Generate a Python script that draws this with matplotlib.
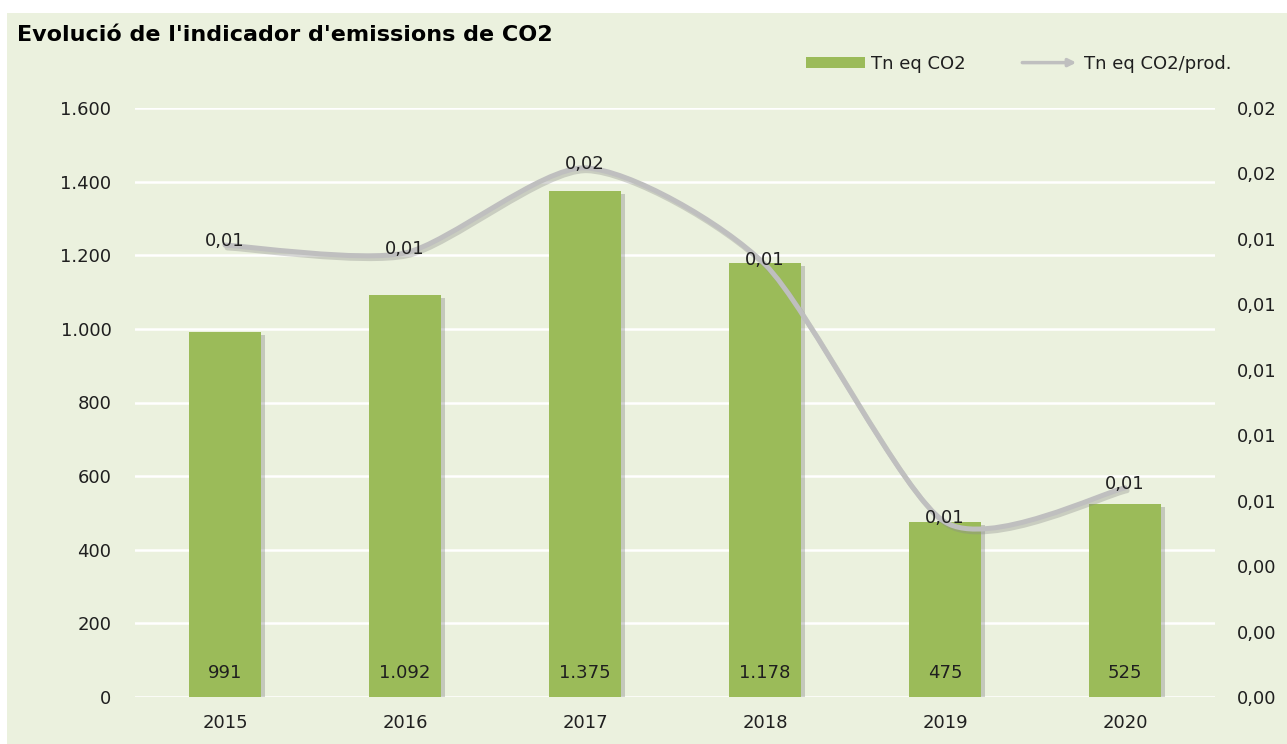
import matplotlib
matplotlib.use("Agg")
import matplotlib.pyplot as plt
import matplotlib.patheffects as pe
from matplotlib.patches import Patch, Rectangle, FancyArrowPatch, PathPatch
from matplotlib.path import Path
from matplotlib.legend_handler import HandlerBase
import numpy as np

# data
years = ["2015", "2016", "2017", "2018", "2019", "2020"]
tn_co2 = [991, 1092, 1375, 1178, 475, 525]
tn_co2_prod = [0.01381, 0.01357, 0.01617, 0.01322, 0.00535, 0.00639]

BG = "#EBF1DE"
BAR = "#9BBB59"
LINE = "#BFBFBF"
TXT = "#1F1F1F"
FONT = 13


def thousands(v):
    return "{:,}".format(v).replace(",", ".")


def comma2(v, pos=None):
    return "{:.2f}".format(v).replace(".", ",")


def smooth_path(xs, ys, k=0.12):
    """Bezier path through the points, roughly like Excel's smoothed line"""
    pts = np.column_stack([xs, ys]).astype(float)
    n = len(pts)
    verts = [pts[0]]
    codes = [Path.MOVETO]
    for i in range(n - 1):
        p0 = pts[max(i - 1, 0)]
        p1 = pts[i]
        p2 = pts[i + 1]
        p3 = pts[min(i + 2, n - 1)]
        verts += [p1 + (p2 - p0) * k, p2 - (p3 - p1) * k, p2]
        codes += [Path.CURVE4] * 3
    return Path(verts, codes)


class ArrowHandler(HandlerBase):
    def create_artists(self, legend, orig_handle, xdescent, ydescent,
                       width, height, fontsize, trans):
        y = height / 2 - ydescent
        arr = FancyArrowPatch((-xdescent, y), (width - xdescent, y),
                              arrowstyle="-|>", mutation_scale=11,
                              color=LINE, lw=2.5, transform=trans)
        return [arr]


fig = plt.figure(figsize=(12.87, 7.44), dpi=100, facecolor="white")
fig.patches.append(Rectangle((7 / 1287, 0), 1 - 7 / 1287, 1 - 13 / 744,
                             transform=fig.transFigure, facecolor=BG,
                             edgecolor="none", zorder=-10))

ax = fig.add_axes([135 / 1287, 1 - 697 / 744, (1215 - 135) / 1287, (697 - 108) / 744])
ax.set_facecolor("none")
x = np.arange(len(years))

bars = ax.bar(x, tn_co2, width=0.4, color=BAR, zorder=3,
              path_effects=[pe.withSimplePatchShadow(offset=(3, -2), shadow_rgbFace="#6b6b6b", alpha=0.3)])
for xi, v in zip(x, tn_co2):
    ax.annotate(thousands(v), (xi, 0), xytext=(0, 17), textcoords="offset points",
                ha="center", va="center", fontsize=FONT, color=TXT, zorder=5)

ax.set_xlim(-0.5, len(years) - 0.5)
ax.set_ylim(0, 1600)
ax.set_yticks(np.arange(0, 1601, 200))
ax.set_yticklabels([thousands(v) for v in range(0, 1601, 200)])
ax.set_xticks(x)
ax.set_xticklabels(years)
ax.grid(axis="y", color="white", linewidth=1.8, zorder=1)
ax.set_axisbelow(True)
for s in ax.spines.values():
    s.set_visible(False)
ax.tick_params(axis="both", length=0, labelsize=FONT, colors=TXT)
ax.tick_params(axis="y", pad=17)
ax.tick_params(axis="x", pad=12)

ax2 = ax.twinx()
ax2.set_ylim(0, 0.018)
ax2.set_yticks(np.arange(0, 0.0181, 0.002))
ax2.yaxis.set_major_formatter(plt.FuncFormatter(comma2))
for s in ax2.spines.values():
    s.set_visible(False)
ax2.tick_params(axis="y", length=0, labelsize=FONT, colors=TXT, pad=16)

curve = PathPatch(smooth_path(x, tn_co2_prod), facecolor="none", edgecolor=LINE,
                  lw=3.6, capstyle="round", transform=ax2.transData, zorder=4,
                  path_effects=[pe.SimpleLineShadow(offset=(1.5, -2), shadow_color="#8a8a8a", alpha=0.35),
                                pe.Normal()])
ax2.add_patch(curve)
for xi, v in zip(x, tn_co2_prod):
    ax2.annotate(comma2(v), (xi, v), xytext=(0, 3), textcoords="offset points",
                 ha="center", va="center", fontsize=FONT, color=TXT, zorder=6)

fig.text(17 / 1287, 1 - 35 / 744, "Evolució de l'indicador d'emissions de CO2",
         fontsize=16, fontweight="bold", color="black", va="center", ha="left")

handles = [Patch(facecolor=BAR, edgecolor="none"), "arrow"]
fig.legend(handles, ["Tn eq CO2", "Tn eq CO2/prod."], loc="center right",
           bbox_to_anchor=(1232 / 1287, 1 - 64 / 744), ncol=2, frameon=False,
           fontsize=FONT, handlelength=3.3, handleheight=0.55, handletextpad=0.3,
           columnspacing=3.0, borderaxespad=0, borderpad=0,
           handler_map={str: ArrowHandler()}, labelcolor=TXT)

fig.savefig("out.png", dpi=100, facecolor="white")
